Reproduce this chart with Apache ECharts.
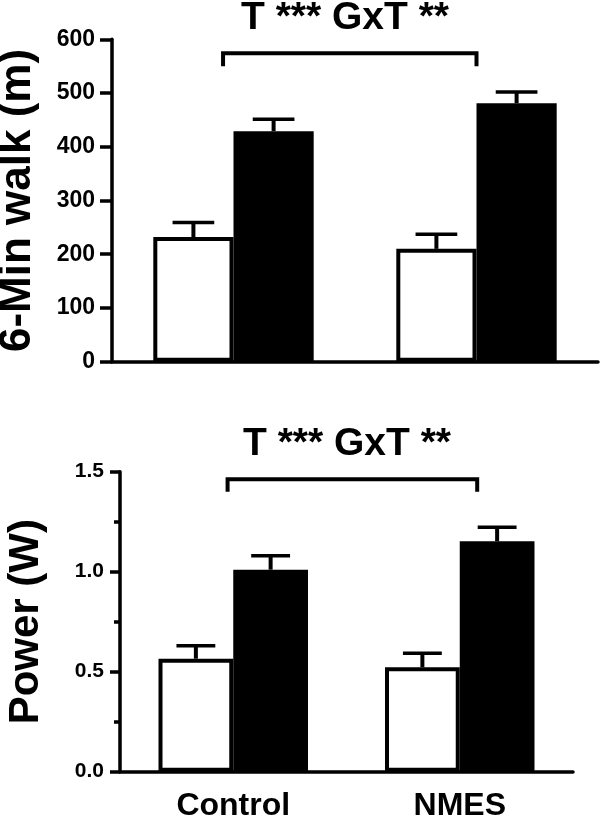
<!DOCTYPE html>
<html><head><meta charset="utf-8">
<script src="https://cdn.jsdelivr.net/npm/echarts@6/dist/echarts.min.js"></script>
<style>html,body{margin:0;padding:0;background:#fff}#c{width:600px;height:818px}</style>
</head><body><div id="c"></div>
<script>
// ---- data ----
const categories = ['Control', 'NMES'];
// 6-minute walk (m): pre (white) and post (black), mean and SEM
const walkPre = [232, 210];
const walkPost = [429, 481];
const walkPreErr = [27, 27];
const walkPostErr = [22, 21];
// Power (W)
const powerPre = [0.565, 0.522];
const powerPost = [1.01, 1.152];
const powerPreErr = [0.065, 0.07];
const powerPostErr = [0.07, 0.07];
const statText = 'T *** GxT **';
const walkName = '6-Min walk (m)';
const powerName = 'Power (W)';

// annotation brackets (in value units)
const walkBracket = { y: 574, leg: 550 };
const powerBracket = { y: 1.462, leg: 1.40 };

// ---- style ----
const FONT = 'Liberation Sans, Arial, Helvetica, sans-serif';
const CAT_GAP = 0.34;
const BAR_FRAC = (1 - CAT_GAP) / 2;
const LW = 3.5;

function errRender(side) {
  return function (params, api) {
    const cat = api.value(0), v = api.value(1), e = api.value(2);
    const band = api.size([1, 0])[0];
    const bw = band * BAR_FRAC;
    const c = api.coord([cat, v]);
    const t = api.coord([cat, v + e]);
    const x = c[0] + side * bw / 2;
    const half = bw * 0.26;
    return { type: 'group', children: [
      { type: 'line', shape: { x1: x, y1: c[1], x2: x, y2: t[1] }, style: { stroke: '#000', lineWidth: 4 } },
      { type: 'line', shape: { x1: x - half, y1: t[1], x2: x + half, y2: t[1] }, style: { stroke: '#000', lineWidth: 3.5 } }
    ]};
  };
}
function bracketRender(b, offL, offR) {
  return function (params, api) {
    const band = api.size([1, 0])[0];
    const p0 = api.coord([0, b.y]);
    const p1 = api.coord([1, b.y]);
    const leg = api.coord([0, b.leg])[1];
    const x0 = p0[0] + offL * band, x1 = p1[0] + offR * band;
    return { type: 'polyline', shape: { points: [[x0, leg], [x0, p0[1]], [x1, p1[1]], [x1, leg]] },
      style: { stroke: '#000', lineWidth: 4, fill: null, lineJoin: 'miter' } };
  };
}
function errData(vals, errs) { return vals.map((v, i) => [i, v, errs[i]]); }

function yAxis(gi, max, interval, name, nameGap, nameSize, tickLen, labelSize, margin, minor) {
  return {
    gridIndex: gi, type: 'value', min: 0, max: max, interval: interval,
    name: name, nameLocation: 'middle', nameGap: nameGap, nameRotate: 90,
    nameTextStyle: { fontSize: nameSize, fontWeight: 'bold', color: '#000', fontFamily: FONT },
    axisLine: { show: true, lineStyle: { color: '#000', width: LW } },
    axisTick: { show: true, length: tickLen, lineStyle: { color: '#000', width: LW } },
    minorTick: { show: !!minor, splitNumber: 2, length: 6, lineStyle: { color: '#000', width: LW } },
    axisLabel: { fontSize: labelSize, fontWeight: 'bold', color: '#000', fontFamily: FONT, margin: margin,
      formatter: v => minor ? v.toFixed(1) : String(v) },
    splitLine: { show: false }
  };
}
function xAxis(gi, showLabel) {
  return {
    gridIndex: gi, type: 'category', data: categories,
    axisLine: { show: true, lineStyle: { color: '#000', width: LW } },
    axisTick: { show: false },
    axisLabel: { show: showLabel, fontSize: 32, fontWeight: 'bold', color: '#000', fontFamily: FONT, margin: 18 },
    splitLine: { show: false }
  };
}
function bars(gi, pre, post) {
  return [
    { type: 'bar', xAxisIndex: gi, yAxisIndex: gi, data: pre, barGap: '0%', barCategoryGap: (CAT_GAP * 100) + '%',
      itemStyle: { color: '#fff', borderColor: '#000', borderWidth: 4 }, z: 2 },
    { type: 'bar', xAxisIndex: gi, yAxisIndex: gi, data: post, barGap: '0%', barCategoryGap: (CAT_GAP * 100) + '%',
      itemStyle: { color: '#000' }, z: 3 }
  ];
}

const chart = echarts.init(document.getElementById('c'), null, { renderer: 'canvas' });
chart.setOption({
  animation: false,
  backgroundColor: '#fff',
  grid: [
    { left: 112, right: 2, top: 39.3, height: 322.4, outerBoundsMode: 'none', containLabel: false },
    { left: 120, right: 27, top: 471.7, height: 300, outerBoundsMode: 'none', containLabel: false }
  ],
  xAxis: [xAxis(0, false), xAxis(1, true)],
  yAxis: [
    yAxis(0, 600, 100, walkName, 72, 44, 12, 23, 17, false),
    yAxis(1, 1.5, 0.5, powerName, 73, 42, 10, 21, 16, true)
  ],
  graphic: [
    { type: 'text', x: 345, y: 18, style: { text: statText, font: 'bold 39px ' + FONT, fill: '#000', align: 'center', verticalAlign: 'middle' } },
    { type: 'text', x: 347, y: 444, style: { text: statText, font: 'bold 39px ' + FONT, fill: '#000', align: 'center', verticalAlign: 'middle' } }
  ],
  series: [
    ...bars(0, walkPre, walkPost),
    ...bars(1, powerPre, powerPost),
    { type: 'custom', xAxisIndex: 0, yAxisIndex: 0, renderItem: errRender(-1), data: errData(walkPre, walkPreErr), z: 4 },
    { type: 'custom', xAxisIndex: 0, yAxisIndex: 0, renderItem: errRender(1), data: errData(walkPost, walkPostErr), z: 4 },
    { type: 'custom', xAxisIndex: 1, yAxisIndex: 1, renderItem: errRender(-1), data: errData(powerPre, powerPreErr), z: 4 },
    { type: 'custom', xAxisIndex: 1, yAxisIndex: 1, renderItem: errRender(1), data: errData(powerPost, powerPostErr), z: 4 },
    { type: 'custom', xAxisIndex: 0, yAxisIndex: 0, renderItem: bracketRender(walkBracket, -0.043, 0.0), data: [[0, walkBracket.y]], z: 4 },
    { type: 'custom', xAxisIndex: 1, yAxisIndex: 1, renderItem: bracketRender(powerBracket, -0.025, 0.077), data: [[0, powerBracket.y]], z: 4 }
  ]
});
</script>
</body></html>
